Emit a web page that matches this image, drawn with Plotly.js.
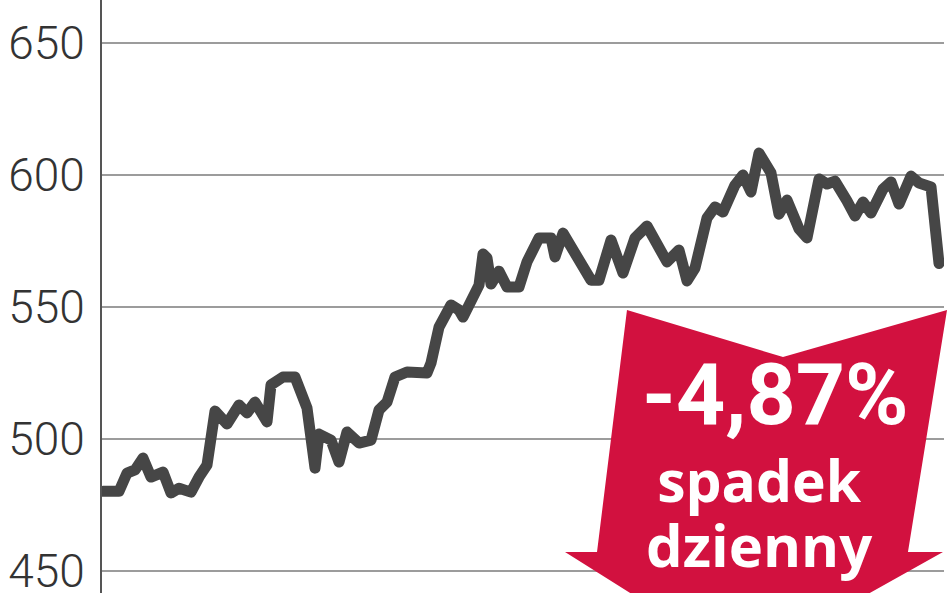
<!DOCTYPE html>
<html><head><meta charset="utf-8">
<script src="https://cdn.plot.ly/plotly-3.0.1.min.js"></script>
<style>
html,body{margin:0;padding:0;background:#fff;overflow:hidden;}
#chart{width:948px;height:593px;}
.js-line{stroke-linejoin:round;stroke-linecap:round;}
</style>
</head><body><div id="chart"></div>
<script>
// trading-day positions and index level
const days = [0,4,6,8,10,12,15,17,19,22,
  24,26,28,31,34,36,38,41,42,45,
  48,49,51,53,54,57,59,61,64,67,
  69,71,73,76,79,81,82,84,87,89,
  90,92,94,95,96,97,99,101,104,106,
  109,112,113,115,117,122,124,127,130,133,
  136,139,141,144,146,148,151,153,155,158,
  160,162,164,167,169,171,174,176,179,181,
  183,186,188,190,192,195,197,199,202,204,
  207,209];
const values = [480,480,486.9,488.1,492.6,485.4,487.3,479.4,481.2,479.7,
  485.4,490.0,510.4,505.5,512.7,509.7,513.8,506.3,520.3,523.3,
  523.3,519.1,511.6,488.8,501.7,499.4,491.1,502.5,498.3,499.4,
  510.8,513.8,523.3,525.2,525.2,524.8,528.6,542.2,550.6,548.7,
  546.0,551.7,558.1,569.9,568.4,558.5,563.4,557.4,557.4,566.9,
  576.0,576.0,568.8,577.8,572.2,560.0,560.0,575.2,562.7,576.0,
  580.5,571.4,566.9,571.4,559.7,564.6,583.5,587.7,585.8,596.0,
  599.8,593.4,608.1,600.6,585.0,590.3,579.4,576.0,598.3,596.4,
  597.5,590.0,584.3,589.6,585.4,594.5,597.2,588.8,599.4,596.8,
  595.3,566.3];
const yTicks = [450,500,550,600,650];
const changeLabel = '-4,87%';
const captionTop = 'spadek';
const captionBottom = 'dzienny';

const W = 948, H = 593, L = 102, R = 4;
const plotW = W - L - R;
const px = x => (x - L) / plotW;
const py = y => (H - y) / H;

const arrowPts = [[627,310],[783,357],[947,310],[908,552],[943,552],[743,664],[565,552],[597,552]];
const arrowPath = 'M' + arrowPts.map(p => px(p[0]).toFixed(4) + ',' + py(p[1]).toFixed(4)).join(' L') + ' Z';

const trace = {
  x: days, y: values, type: 'scatter', mode: 'lines',
  line: {color: '#464646', width: 11, shape: 'linear'},
  hoverinfo: 'skip'
};

const layout = {
  width: W, height: H,
  margin: {l: L, r: R, t: 0, b: 0, pad: 0},
  paper_bgcolor: '#fff', plot_bgcolor: '#fff',
  showlegend: false,
  xaxis: {range: [-0.25, 210.25], visible: false, showgrid: false, zeroline: false, fixedrange: true},
  yaxis: {
    range: [441.5, 666.1], tickvals: yTicks, ticktext: yTicks.map(String),
    showgrid: true, gridcolor: '#9c9c9c', gridwidth: 2,
    showline: true, linecolor: '#555', linewidth: 2,
    zeroline: false, ticks: '', ticklabelstandoff: 6, ticklabeloverflow: 'allow',
    tickfont: {family: 'Roboto, "DejaVu Sans", sans-serif', size: 46, color: '#333', weight: 300},
    fixedrange: true
  },
  shapes: [{
    type: 'path', xref: 'paper', yref: 'paper', path: arrowPath,
    fillcolor: '#d2113f', line: {width: 0}, layer: 'above'
  }],
  annotations: [
    {text: changeLabel, xref: 'paper', yref: 'paper', x: px(775), y: py(394), xanchor: 'center', yanchor: 'middle', showarrow: false,
     font: {family: 'Roboto, sans-serif', size: 86, color: '#fff', weight: 700}},
    {text: '<span style="font-size:57px">' + captionTop + '</span><br><span style="font-size:58px">' + captionBottom + '</span>',
     xref: 'paper', yref: 'paper', x: px(759), y: py(512), xanchor: 'center', yanchor: 'middle', showarrow: false,
     font: {family: '"Open Sans", sans-serif', size: 50, color: '#fff', weight: 700}}
  ]
};

Plotly.newPlot('chart', [trace], layout, {displayModeBar: false, staticPlot: true});
</script>
</body></html>
